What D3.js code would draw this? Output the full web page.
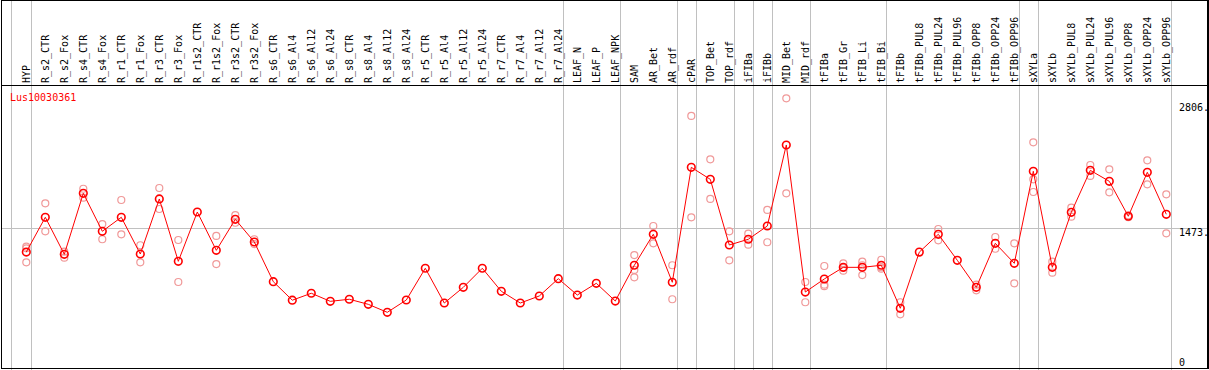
<!DOCTYPE html>
<html>
<head>
<meta charset="utf-8">
<script src="https://cdn.jsdelivr.net/npm/d3@7"></script>
<style>
  body { margin: 0; background: #fff; }
  svg { display: block; font-family: "DejaVu Sans Mono", "Liberation Mono", monospace; }
</style>
</head>
<body>
<div id="chart"></div>
<script>
const title = 'Lus10030361';

const categories = ['HYP',
  'R_s2_CTR', 'R_s2_Fox', 'R_s4_CTR', 'R_s4_Fox', 'R_r1_CTR', 'R_r1_Fox', 'R_r3_CTR', 'R_r3_Fox',
  'R_r1s2_CTR', 'R_r1s2_Fox', 'R_r3s2_CTR', 'R_r3s2_Fox', 'R_s6_CTR', 'R_s6_Al4', 'R_s6_Al12', 'R_s6_Al24',
  'R_s8_CTR', 'R_s8_Al4', 'R_s8_Al12', 'R_s8_Al24', 'R_r5_CTR', 'R_r5_Al4', 'R_r5_Al12', 'R_r5_Al24',
  'R_r7_CTR', 'R_r7_Al4', 'R_r7_Al12', 'R_r7_Al24',
  'LEAF_N', 'LEAF_P', 'LEAF_NPK', 'SAM', 'AR_Bet', 'AR_rdf', 'cPAR', 'TOP_Bet', 'TOP_rdf',
  'iFIBa', 'iFIBb', 'MID_Bet', 'MID_rdf', 'tFIBa', 'tFIB_Gr', 'tFIB_Li', 'tFIB_Bi',
  'tFIBb', 'tFIBb_PUL8', 'tFIBb_PUL24', 'tFIBb_PUL96', 'tFIBb_OPP8', 'tFIBb_OPP24', 'tFIBb_OPP96',
  'sXYLa', 'sXYLb', 'sXYLb_PUL8', 'sXYLb_PUL24', 'sXYLb_PUL96', 'sXYLb_OPP8', 'sXYLb_OPP24', 'sXYLb_OPP96'];

// mean expression per sample
const means = [1219,
  1589, 1195, 1844, 1440, 1589, 1198, 1784, 1120,
  1645, 1237, 1567, 1326, 903, 706, 780, 694,
  716, 662, 577, 708, 1046, 676, 843, 1046,
  801, 676, 751, 935,
  761, 886, 697, 1078, 1408, 897, 2121, 1993, 1294,
  1355, 1496, 2359, 793, 932, 1056, 1056, 1078,
  620, 1218, 1408, 1131, 843, 1312, 1099,
  2079, 1056, 1642, 2089, 1972, 1600, 2068, 1621];

// individual replicates (null = hidden / none)
const rep1 = [1276,
  1738, 1223, 1893, 1517, 1773, 1291, 1901, 1347,
  null, 1390, 1613, 1355, null, null, null, null,
  null, null, null, null, null, null, null, null,
  null, null, null, null,
  null, null, null, 1187, 1496, 1078, 2668, 2206, 1440,
  1414, 1667, 2856, 900, 1070, 1099, 1116, 1137,
  684, null, 1464, null, 871, 1379, 1312,
  2387, 1116, 1691, 2146, 2100, 1610, 2196, 1834];
const rep2 = [1258,
  1440, 1159, 1798, 1355, 1408, 1109, 1677, 900,
  null, 1091, 1531, 1304, null, null, null, null,
  null, null, null, null, null, null, null, null,
  null, null, null, null,
  null, null, null, 1028, 1312, 716, 1589, 1784, 1131,
  1297, 1323, 1844, 684, 871, 1020, 974, 1041,
  556, null, 1344, null, 811, 1254, 886,
  1993, 999, 1595, 2029, 1855, 1590, 1940, 1418];
const rep3 = [1109,
  null, null, null, null, null, null, null, null,
  null, null, null, null, null, null, null, null,
  null, null, null, null, null, null, null, null,
  null, null, null, null,
  null, null, null, 950, null, null, null, null, null,
  null, null, null, null, 855, 1049, 1078, 1056,
  null, null, null, null, null, null, null,
  1858, null, null, null, null, null, null, null];

// index of last sample in each group (grey separators)
const groupEnds = [0, 28, 31, 34, 35, 37, 38, 39, 41, 45, 52, 53, 60];
const yTicks = [0, 1473, 2806];

const W = 1209, H = 370;
const headerBottom = 85.5;
const red = '#ff0000', pink = '#f09999', grey = '#c0c0c0';

const svg = d3.select('#chart').append('svg')
  .attr('width', W).attr('height', H);

const x = d3.scalePoint().domain(categories).range([26.3, 1166.3]);
const y = d3.scaleLinear().domain([0, 2806]).range([366.5, 103]);

const grid = svg.append('g').attr('shape-rendering', 'crispEdges');

// vertical group separators
const sepX = [x(categories[0]) - 15.5].concat(groupEnds.map(i => x(categories[i]) + 4.4));
grid.selectAll('line.sep')
  .data(sepX)
  .join('line')
  .attr('class', 'sep')
  .attr('x1', d => Math.round(d) + 0.5).attr('x2', d => Math.round(d) + 0.5)
  .attr('y1', 0).attr('y2', H)
  .attr('stroke', grey);

// middle horizontal line
grid.append('line')
  .attr('x1', 1).attr('x2', W - 1)
  .attr('y1', Math.round(y(yTicks[1])) + 0.5).attr('y2', Math.round(y(yTicks[1])) + 0.5)
  .attr('stroke', grey);

// frame + header line
grid.append('rect')
  .attr('x', 1.5).attr('y', 0.5).attr('width', W - 2.5).attr('height', H - 2)
  .attr('fill', 'none').attr('stroke', '#000').attr('stroke-width', 1.5);
grid.append('line')
  .attr('x1', 1).attr('x2', W - 1).attr('y1', headerBottom).attr('y2', headerBottom)
  .attr('stroke', '#000');

// column labels
svg.append('g').selectAll('text')
  .data(categories)
  .join('text')
  .attr('transform', d => `translate(${x(d) + 3.4},83) rotate(-90)`)
  .attr('font-size', 10)
  .attr('fill', '#000')
  .text(d => d);

// title
svg.append('text')
  .attr('x', 10).attr('y', 101)
  .attr('font-size', 10)
  .attr('fill', red)
  .text(title);

// right axis labels
svg.append('g').selectAll('text')
  .data(yTicks)
  .join('text')
  .attr('x', 1179)
  .attr('y', d => Math.min(y(d) + 8, 365.5))
  .attr('font-size', 10)
  .attr('fill', '#000')
  .text(d => d === 0 ? '0' : d + '.');

// replicate circles
const reps = [];
[rep1, rep2, rep3].forEach(arr => arr.forEach((v, i) => {
  if (v != null) reps.push({ cat: categories[i], v });
}));
svg.append('g').selectAll('circle')
  .data(reps)
  .join('circle')
  .attr('cx', d => x(d.cat))
  .attr('cy', d => y(d.v))
  .attr('r', 3.5)
  .attr('fill', 'none')
  .attr('stroke', pink)
  .attr('stroke-width', 1.2);

// mean line
const line = d3.line()
  .x((d, i) => x(categories[i]))
  .y(d => y(d));
svg.append('path')
  .datum(means)
  .attr('d', line)
  .attr('fill', 'none')
  .attr('stroke', red)
  .attr('stroke-width', 1);

// mean markers
svg.append('g').selectAll('circle')
  .data(means)
  .join('circle')
  .attr('cx', (d, i) => x(categories[i]))
  .attr('cy', d => y(d))
  .attr('r', 3.8)
  .attr('fill', 'none')
  .attr('stroke', red)
  .attr('stroke-width', 1.6);
</script>
</body>
</html>
